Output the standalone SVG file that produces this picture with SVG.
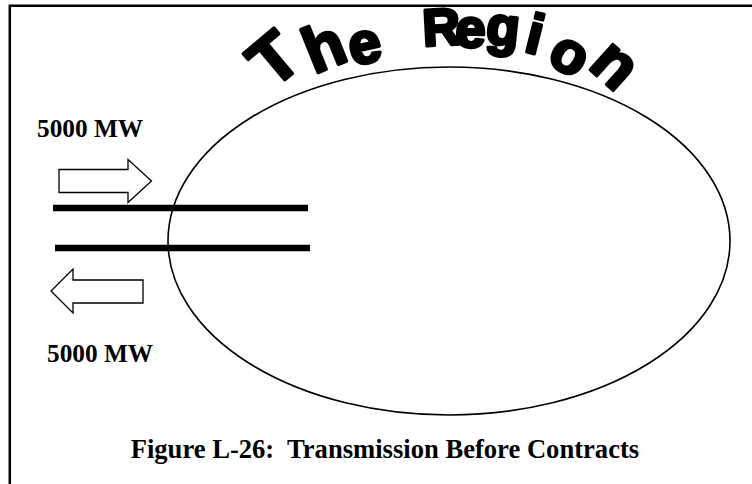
<svg xmlns="http://www.w3.org/2000/svg" width="752" height="484" viewBox="0 0 752 484">
  <style>
    .frame { stroke: #000; stroke-width: 2.5; fill: none; }
    .region { fill: none; stroke: #000; stroke-width: 1.6; }
    .title { font-family: "Liberation Sans", Arial, sans-serif; font-weight: bold; fill: #000; stroke: #000; stroke-width: 3.4; stroke-linejoin: round; }
    .tline { stroke: #000; stroke-width: 6.5; stroke-linecap: butt; }
    .flow { fill: #fff; stroke: #000; stroke-width: 1.3; stroke-linejoin: miter; }
    .label { font-family: "Liberation Serif", "Times New Roman", serif; font-weight: bold; fill: #000; }
  </style>

  <!-- page frame: top and left rules -->
  <g id="frame">
    <path class="frame" d="M9.8 484 V5.8 H752"/>
  </g>

  <!-- the region: ellipse with arched title -->
  <g id="region">
    <ellipse class="region" cx="449" cy="241" rx="281" ry="174"/>
    <text class="title"><tspan font-size="68" x="272.7" y="90" rotate="-40">T</tspan><tspan font-size="64" x="313.9" y="74.2" rotate="-22">h</tspan><tspan font-size="58" x="352.4" y="65.9" rotate="-12">e</tspan> <tspan font-size="52" x="423.6" y="45.9" rotate="-3">R</tspan><tspan font-size="54" x="455" y="46.4" rotate="2">e</tspan><tspan font-size="54" x="485.1" y="43.3" rotate="6">g</tspan><tspan font-size="56" x="523" y="51" rotate="14">i</tspan><tspan font-size="58" x="545.2" y="61.7" rotate="30">o</tspan><tspan font-size="64" x="587" y="66.8" rotate="42">n</tspan></text>
  </g>

  <!-- transmission lines into the region -->
  <g id="connectors">
    <line class="tline" x1="53" y1="208" x2="308" y2="208"/>
    <line class="tline" x1="55" y1="248" x2="310" y2="248"/>
  </g>

  <!-- inbound flow -->
  <g id="flow-in">
    <polygon class="flow" points="59,169.5 128,169.5 128,159.5 151.5,181 128,202.5 128,192.5 59,192.5"/>
    <text class="label" x="37" y="136.5" font-size="25.3">5000 MW</text>
  </g>

  <!-- outbound flow -->
  <g id="flow-out">
    <polygon class="flow" points="143,280 73,280 73,269 51,291 73,313 73,303 143,303"/>
    <text class="label" x="47" y="362" font-size="25.3">5000 MW</text>
  </g>

  <!-- caption -->
  <g id="caption">
    <text class="label" x="130.7" y="457.7" font-size="26.6" xml:space="preserve">Figure L-26:  Transmission Before Contracts</text>
  </g>
</svg>
